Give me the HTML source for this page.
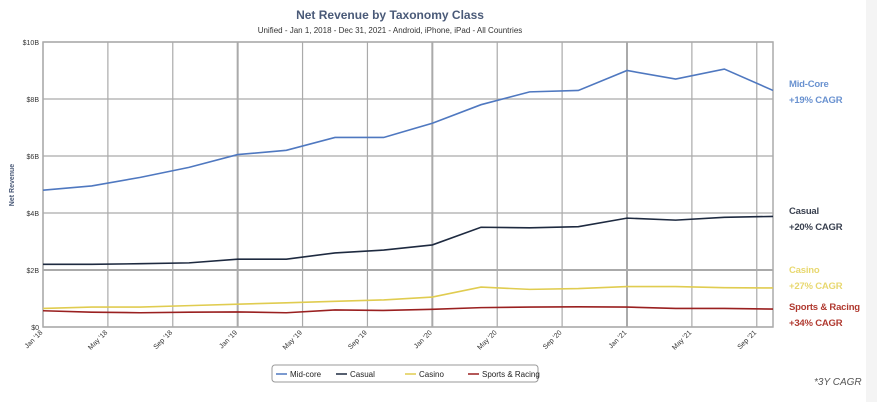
<!DOCTYPE html>
<html><head><meta charset="utf-8"><style>
body{margin:0;background:#fff;width:877px;height:402px;overflow:hidden;font-family:"Liberation Sans",sans-serif}
</style></head><body>
<svg id="c" width="877" height="402" xmlns="http://www.w3.org/2000/svg">
<rect x="866" y="0" width="11" height="402" fill="#f4f4f4"/>
<text x="390" y="19" text-anchor="middle" font-size="12" font-weight="bold" fill="#4a5a78">Net Revenue by Taxonomy Class</text>
<text x="390" y="33" text-anchor="middle" font-size="8" fill="#333">Unified - Jan 1, 2018 - Dec 31, 2021 - Android, iPhone, iPad - All Countries</text>
<text transform="translate(14,185) rotate(-90)" text-anchor="middle" font-size="7" font-weight="bold" fill="#4a5a78">Net Revenue</text>
<g id="grid"></g><g id="series"></g>
<g>
<rect x="272" y="365" width="266" height="17" rx="3" fill="#fff" stroke="#999"/>
</g>
<g id="leg"></g>
<text x="814" y="385" font-size="10" font-style="italic" fill="#555">*3Y CAGR</text>
</svg>
<script>
const categories=["Jan '18","Apr '18","Jul '18","Oct '18","Jan '19","Apr '19","Jul '19","Oct '19","Jan '20","Apr '20","Jul '20","Oct '20","Jan '21","Apr '21","Jul '21","Oct '21"];
const midCore=[4.8,4.95,5.25,5.6,6.05,6.2,6.65,6.65,7.15,7.8,8.25,8.3,9.0,8.7,9.05,8.3];
const casual=[2.2,2.2,2.22,2.25,2.38,2.38,2.6,2.7,2.88,3.5,3.48,3.52,3.82,3.75,3.85,3.88];
const casino=[0.65,0.7,0.7,0.75,0.8,0.85,0.9,0.95,1.05,1.4,1.32,1.35,1.42,1.42,1.38,1.37];
const sports=[0.57,0.52,0.5,0.52,0.53,0.5,0.6,0.58,0.62,0.68,0.7,0.71,0.7,0.65,0.65,0.63];
const yTicks=[0,2,4,6,8,10];
const yTickLabels=["$0","$2B","$4B","$6B","$8B","$10B"];
const xTickLabels=["Jan '18","May '18","Sep '18","Jan '19","May '19","Sep '19","Jan '20","May '20","Sep '20","Jan '21","May '21","Sep '21"];
const seriesNames=["Mid-core","Casual","Casino","Sports & Racing"];
const NS="http://www.w3.org/2000/svg";
const L=43,R=773,T=42,B=327;
const x=m=>L+(R-L)*m/45;
const y=v=>B-(B-T)*v/10;
function mk(t,a,p){const e=document.createElementNS(NS,t);for(const k in a)e.setAttribute(k,a[k]);p.appendChild(e);return e;}
const g=document.getElementById('grid');
yTicks.forEach((v,i)=>{
 const l=mk('line',{x1:L,x2:R,y1:y(v),y2:y(v),stroke:'#aaa','stroke-width':v===2?2:1.2},g);
 
 
 const t=mk('text',{x:L-4,y:y(v)+3,'text-anchor':'end','font-size':7,fill:'#333'},g);t.textContent=yTickLabels[i];
 
 
});
xTickLabels.forEach((s,i)=>{
 const m=i*4,xx=x(m);
 const l=mk('line',{x1:xx,x2:xx,y1:T,y2:B,stroke:'#aaa','stroke-width':(i%3===0&&i>0)?2:1.2},g);
 
 
 const t=mk('text',{x:xx,y:B+6,'text-anchor':'end','font-size':7,fill:'#333',transform:`rotate(-45 ${xx} ${B+6})`},g);t.textContent=s;
 
 
});
mk('rect',{x:L,y:T,width:R-L,height:B-T,fill:'none',stroke:'#aaa','stroke-width':1.5},g);
const sg=document.getElementById('series');
const data=[midCore,casual,casino,sports],cols=['#4f78c0','#1e2a40','#e0cc50','#9a2020'],names=['series-mid-core','series-casual','series-casino','series-sports-racing'];
data.forEach((d,k)=>{
 const p=mk('polyline',{points:d.map((v,i)=>x(i*3)+','+y(v)).join(' '),fill:'none',stroke:cols[k],'stroke-width':1.6},sg);
 
 
});
const lg=document.getElementById('leg');
const lx=[276,336,405,468];
seriesNames.forEach((n,i)=>{
 const l=mk('line',{x1:lx[i],x2:lx[i]+11,y1:374,y2:374,stroke:cols[i],'stroke-width':1.5},lg);
 
 
 const t=mk('text',{x:lx[i]+14,y:377,'font-size':8,fill:'#222'},lg);t.textContent=n;
 
 
});
const ann=[["Mid-Core","+19% CAGR",87,'#6a92d0'],["Casual","+20% CAGR",214,'#3a4150'],["Casino","+27% CAGR",273,'#e8d870'],["Sports & Racing","+34% CAGR",310,'#b03a30']];
ann.forEach(a=>{
 const t=mk('text',{x:789,y:a[2],'font-size':9.5,'font-weight':'bold',fill:a[3],'letter-spacing':'-0.2'},lg);t.textContent=a[0];
 
 
 const u=mk('text',{x:789,y:a[2]+16,'font-size':9.5,'font-weight':'bold',fill:a[3],'letter-spacing':'-0.2'},lg);u.textContent=a[1];
 
 
});
</script>
</body></html>
